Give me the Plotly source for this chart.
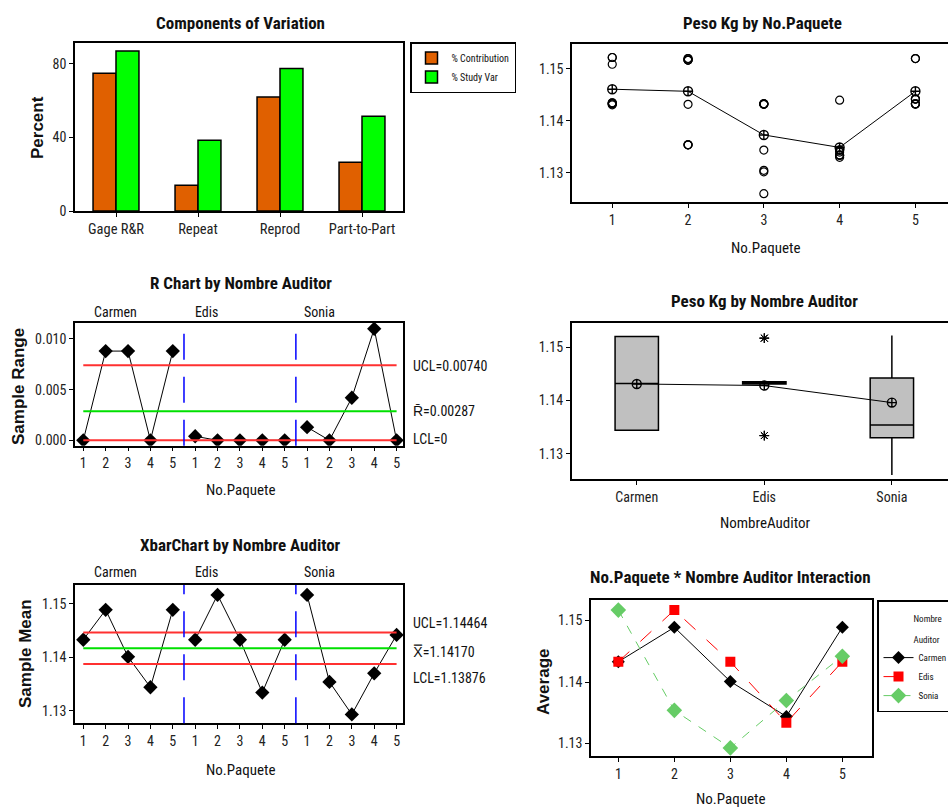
import plotly.graph_objects as go

W, H = 948, 810

# ---------------- data ----------------
comp_categories = ["Gage R&R", "Repeat", "Reprod", "Part-to-Part"]
pct_contribution = [75.0, 14.0, 62.0, 26.5]
pct_study_var = [87.0, 38.5, 77.5, 51.5]

auditors = ["Carmen", "Edis", "Sonia"]
paquetes = [1, 2, 3, 4, 5]
paquete_labels = ["1", "2", "3", "4", "5"]

# individual measurements (3 trials per auditor and package)
peso_carmen = [[1.1433, 1.1433, 1.1433], [1.1520, 1.1520, 1.1432], [1.1432, 1.1432, 1.1344],
               [1.1344, 1.1344, 1.1344], [1.1520, 1.1520, 1.1432]]
peso_edis = [[1.1435, 1.1435, 1.1431], [1.1517, 1.1517, 1.1517], [1.1433, 1.1433, 1.1433],
             [1.1334, 1.1334, 1.1334], [1.1433, 1.1433, 1.1433]]
peso_sonia = [[1.1522, 1.1522, 1.1509], [1.1354, 1.1354, 1.1354], [1.1260, 1.1302, 1.1305],
              [1.1440, 1.1330, 1.1340], [1.1442, 1.1442, 1.1442]]

part_means = [1.1461, 1.1457, 1.1373, 1.1349, 1.1457]
auditor_means = [1.1431, 1.1428, 1.1396]

range_carmen = [0.0000, 0.0088, 0.0088, 0.0000, 0.0088]
range_edis = [0.0004, 0.0000, 0.0000, 0.0000, 0.0000]
range_sonia = [0.0013, 0.0000, 0.0042, 0.0110, 0.0000]
r_ucl, r_center, r_lcl = 0.00740, 0.00287, 0.0

xbar_carmen = [1.1433, 1.1489, 1.1401, 1.1344, 1.1489]
xbar_edis = [1.1433, 1.1517, 1.1433, 1.1334, 1.1433]
xbar_sonia = [1.1517, 1.1354, 1.1293, 1.1370, 1.1442]
x_ucl, x_center, x_lcl = 1.14464, 1.14170, 1.13876

# ---------------- helpers ----------------
def px(x):
    return x / W


def py(y):
    return 1 - y / H


FONT_N = "Liberation Sans Narrow, Arial Narrow, Roboto Condensed, Roboto, sans-serif"
FONT_B = "Liberation Sans, Arial, sans-serif"
TICK_COL = "#222222"
ORANGE = "#E06000"
GREEN = "#00FF00"

fig = go.Figure()

# ---- Components of Variation ----
fig.add_trace(go.Bar(x=comp_categories, y=pct_contribution, name="% Contribution",
                     marker=dict(color=ORANGE, line=dict(color="black", width=1.5)),
                     xaxis="x", yaxis="y", legend="legend"))
fig.add_trace(go.Bar(x=comp_categories, y=pct_study_var, name="% Study Var",
                     marker=dict(color=GREEN, line=dict(color="black", width=1.5)),
                     xaxis="x", yaxis="y", legend="legend"))

# ---- Peso Kg by No.Paquete ----
for data in (peso_carmen, peso_edis, peso_sonia):
    xs = [p for p, trials in zip(paquetes, data) for _ in trials]
    ys = [v for trials in data for v in trials]
    fig.add_trace(go.Scatter(x=xs, y=ys, mode="markers", showlegend=False,
                             marker=dict(symbol="circle-open", size=8, color="black",
                                         line=dict(width=1.2)),
                             xaxis="x2", yaxis="y2"))
fig.add_trace(go.Scatter(x=paquetes, y=part_means, mode="lines+markers", showlegend=False,
                         line=dict(color="black", width=1),
                         marker=dict(symbol="circle-cross-open", size=9, color="black",
                                     line=dict(width=1.4)),
                         xaxis="x2", yaxis="y2"))

# ---- R chart and Xbar chart ----
ranges = [range_carmen, range_edis, range_sonia]
xbars = [xbar_carmen, xbar_edis, xbar_sonia]
for gi in range(len(auditors)):
    idx = [gi * len(paquetes) + p for p in paquetes]
    fig.add_trace(go.Scatter(x=idx, y=ranges[gi], mode="lines+markers", showlegend=False,
                             line=dict(color="black", width=1),
                             marker=dict(symbol="diamond", size=11, color="black"),
                             xaxis="x3", yaxis="y3"))
    fig.add_trace(go.Scatter(x=idx, y=xbars[gi], mode="lines+markers", showlegend=False,
                             line=dict(color="black", width=1),
                             marker=dict(symbol="diamond", size=11, color="black"),
                             xaxis="x5", yaxis="y5"))

n_samples = len(auditors) * len(paquetes)
seq_ticks = list(range(1, n_samples + 1))
seq_text = paquete_labels * len(auditors)

for val, col, ax in [(r_ucl, "#FF3030", 3), (r_center, "#00E000", 3), (r_lcl, "#FF3030", 3),
                     (x_ucl, "#FF3030", 5), (x_center, "#00E000", 5), (x_lcl, "#FF3030", 5)]:
    fig.add_trace(go.Scatter(x=[seq_ticks[0], seq_ticks[-1]], y=[val, val], mode="lines",
                             showlegend=False, line=dict(color=col, width=2),
                             xaxis=f"x{ax}", yaxis=f"y{ax}"))

# ---- Peso Kg by Nombre Auditor (box plot) ----
for name, data in zip(auditors, (peso_carmen, peso_edis, peso_sonia)):
    ys = [v for trials in data for v in trials]
    fig.add_trace(go.Box(x=[name] * len(ys), y=ys, showlegend=False, boxpoints="outliers",
                         quartilemethod="exclusive", width=0.34, whiskerwidth=0,
                         fillcolor="#C0C0C0", line=dict(color="black", width=1.5),
                         marker=dict(symbol="asterisk-open", size=8, color="black",
                                     line=dict(width=1)),
                         xaxis="x4", yaxis="y4"))
fig.add_trace(go.Scatter(x=auditors, y=auditor_means, mode="lines+markers", showlegend=False,
                         line=dict(color="black", width=1),
                         marker=dict(symbol="circle-cross-open", size=9, color="black",
                                     line=dict(width=1.4)),
                         xaxis="x4", yaxis="y4"))

# ---- Interaction ----
inter_styles = [
    dict(line=dict(color="black", width=1, dash="solid"),
         marker=dict(symbol="diamond", size=10, color="black")),
    dict(line=dict(color="#FF0000", width=1, dash="longdash"),
         marker=dict(symbol="square", size=10, color="#FF0000")),
    dict(line=dict(color="#66CC66", width=1, dash="dash"),
         marker=dict(symbol="diamond", size=12, color="#66CC66")),
]
for name, vals, st in zip(auditors, xbars, inter_styles):
    fig.add_trace(go.Scatter(x=paquetes, y=vals, mode="lines+markers", name=name,
                             xaxis="x6", yaxis="y6", legend="legend2", **st))

# ---------------- layout ----------------
def axis(**kw):
    base = dict(showline=True, linecolor="black", linewidth=1.5, mirror=True,
                ticks="outside", ticklen=4, tickcolor="black", tickwidth=1,
                showgrid=False, zeroline=False,
                tickfont=dict(family=FONT_N, size=14, color=TICK_COL))
    base.update(kw)
    return base


pad = "\u00a0" * 9
tail = "\u00a0" * 5
leg2_title = (f'{pad}<span style="font-size:9px">Nombre</span>{tail}<br>'
              f'{pad}<span style="font-size:9px">Auditor</span>')

fig.update_layout(
    width=W, height=H, margin=dict(l=0, r=0, t=0, b=0, autoexpand=False),
    paper_bgcolor="white", plot_bgcolor="white",
    barmode="group", bargap=0.44, bargroupgap=0,
    xaxis=axis(domain=[px(75), px(403)], anchor="y", type="category", range=[-0.5, 3.5],
               tickfont=dict(family=FONT_N, size=14.5, color=TICK_COL)),
    yaxis=axis(domain=[py(211), py(43)], anchor="x", range=[0, 91.4], tickvals=[0, 40, 80]),
    xaxis2=axis(domain=[px(572), 1.0], anchor="y2", range=[0.469, 5.43], tickvals=paquetes),
    yaxis2=axis(domain=[py(202), py(44)], anchor="x2", range=[1.1244, 1.1548],
                tickvals=[1.13, 1.14, 1.15], tickformat=".2f"),
    xaxis3=axis(domain=[px(75), px(403.3)], anchor="y3", range=[0.63, 15.3],
                tickvals=seq_ticks, ticktext=seq_text),
    yaxis3=axis(domain=[py(445.7), py(322.7)], anchor="x3", range=[-0.00053, 0.0116],
                tickvals=[0, 0.005, 0.010], tickformat=".3f"),
    xaxis4=axis(domain=[px(571.7), 1.0], anchor="y4", type="category", range=[-0.51, 2.44],
                categoryorder="array", categoryarray=auditors),
    yaxis4=axis(domain=[py(479.3), py(322.7)], anchor="x4", range=[1.1252, 1.1546],
                tickvals=[1.13, 1.14, 1.15], tickformat=".2f"),
    xaxis5=axis(domain=[px(75), px(403.3)], anchor="y5", range=[0.63, 15.3],
                tickvals=seq_ticks, ticktext=seq_text),
    yaxis5=axis(domain=[py(723.3), py(585)], anchor="x5", range=[1.12764, 1.15356],
                tickvals=[1.13, 1.14, 1.15], tickformat=".2f"),
    xaxis6=axis(domain=[px(591), px(871.7)], anchor="y6", range=[0.512, 5.524],
                tickvals=paquetes),
    yaxis6=axis(domain=[py(756), py(600)], anchor="x6", range=[1.12798, 1.15334],
                tickvals=[1.13, 1.14, 1.15], tickformat=".2f"),
    legend=dict(x=px(410), y=py(42), xanchor="left", yanchor="top",
                bordercolor="black", borderwidth=1.5, bgcolor="white",
                font=dict(family=FONT_N, size=10, color="#111")),
    legend2=dict(x=px(877), y=py(600), xanchor="left", yanchor="top",
                 bordercolor="black", borderwidth=1.5, bgcolor="white",
                 title=dict(text=leg2_title, font=dict(family=FONT_N, size=16, color="#111")),
                 font=dict(family=FONT_N, size=9, color="#111")),
    showlegend=True,
)

# blue dashed separators
for ax in (3, 5):
    for sep in (len(paquetes) + 0.5, 2 * len(paquetes) + 0.5):
        fig.add_shape(type="line", xref=f"x{ax}", yref=f"y{ax} domain", x0=sep, x1=sep,
                      y0=0, y1=1, line=dict(color="#0000FF", width=1.5, dash="26px,17px"))

ann = []


def text(x, y, s, size=14, bold=False, family=FONT_N, angle=0, xanchor="center",
         xref="paper", color="#111"):
    ann.append(dict(x=x, y=y, xref=xref, yref="paper", text=f"<b>{s}</b>" if bold else s,
                    showarrow=False, textangle=angle, xanchor=xanchor, yanchor="middle",
                    font=dict(family=family, size=size, color=color)))


# titles
text(px(240), py(23), "Components of Variation", size=17, bold=True)
text(px(762), py(23), "Peso Kg by No.Paquete", size=17, bold=True)
text(px(241), py(283), "R Chart by Nombre Auditor", size=17, bold=True)
text(px(764), py(301), "Peso Kg by Nombre Auditor", size=17, bold=True)
text(px(240), py(545), "XbarChart by Nombre Auditor", size=17, bold=True)
text(px(730), py(577), "No.Paquete * Nombre Auditor Interaction", size=17, bold=True)

# axis titles
text(px(38), py(128), "Percent", size=17, bold=True, family=FONT_B, angle=-90)
text(px(18), py(387), "Sample Range", size=17, bold=True, family=FONT_B, angle=-90)
text(px(25), py(654), "Sample Mean", size=17, bold=True, family=FONT_B, angle=-90)
text(px(543), py(682), "Average", size=17, bold=True, family=FONT_B, angle=-90)
text(px(765), py(248), "No.Paquete", size=15)
text(px(240), py(490), "No.Paquete", size=15)
text(px(765), py(523), "NombreAuditor", size=15)
text(px(240), py(770), "No.Paquete", size=15)
text(px(730), py(799), "No.Paquete", size=15)

# group labels
for lab, xc in zip(auditors, (2.44, 6.51, 11.57)):
    text(xc, py(312), lab, size=14, xref="x3")
    text(xc, py(572), lab, size=14, xref="x5")

# control limit labels
text(px(410.7), py(366), f"UCL={r_ucl:.5f}", size=14, xanchor="left")
text(px(410.7), py(411), f"R\u0304={r_center:.5f}", size=14, xanchor="left")
text(px(410.7), py(439), f"LCL={r_lcl:g}", size=14, xanchor="left")
text(px(410.7), py(623), f"UCL={x_ucl:.5f}", size=14, xanchor="left")
text(px(410.7), py(652), f"X\u033f={x_center:.5f}", size=14, xanchor="left")
text(px(410.7), py(678), f"LCL={x_lcl:.5f}", size=14, xanchor="left")

fig.update_layout(annotations=ann)
fig.write_html("out.html")
